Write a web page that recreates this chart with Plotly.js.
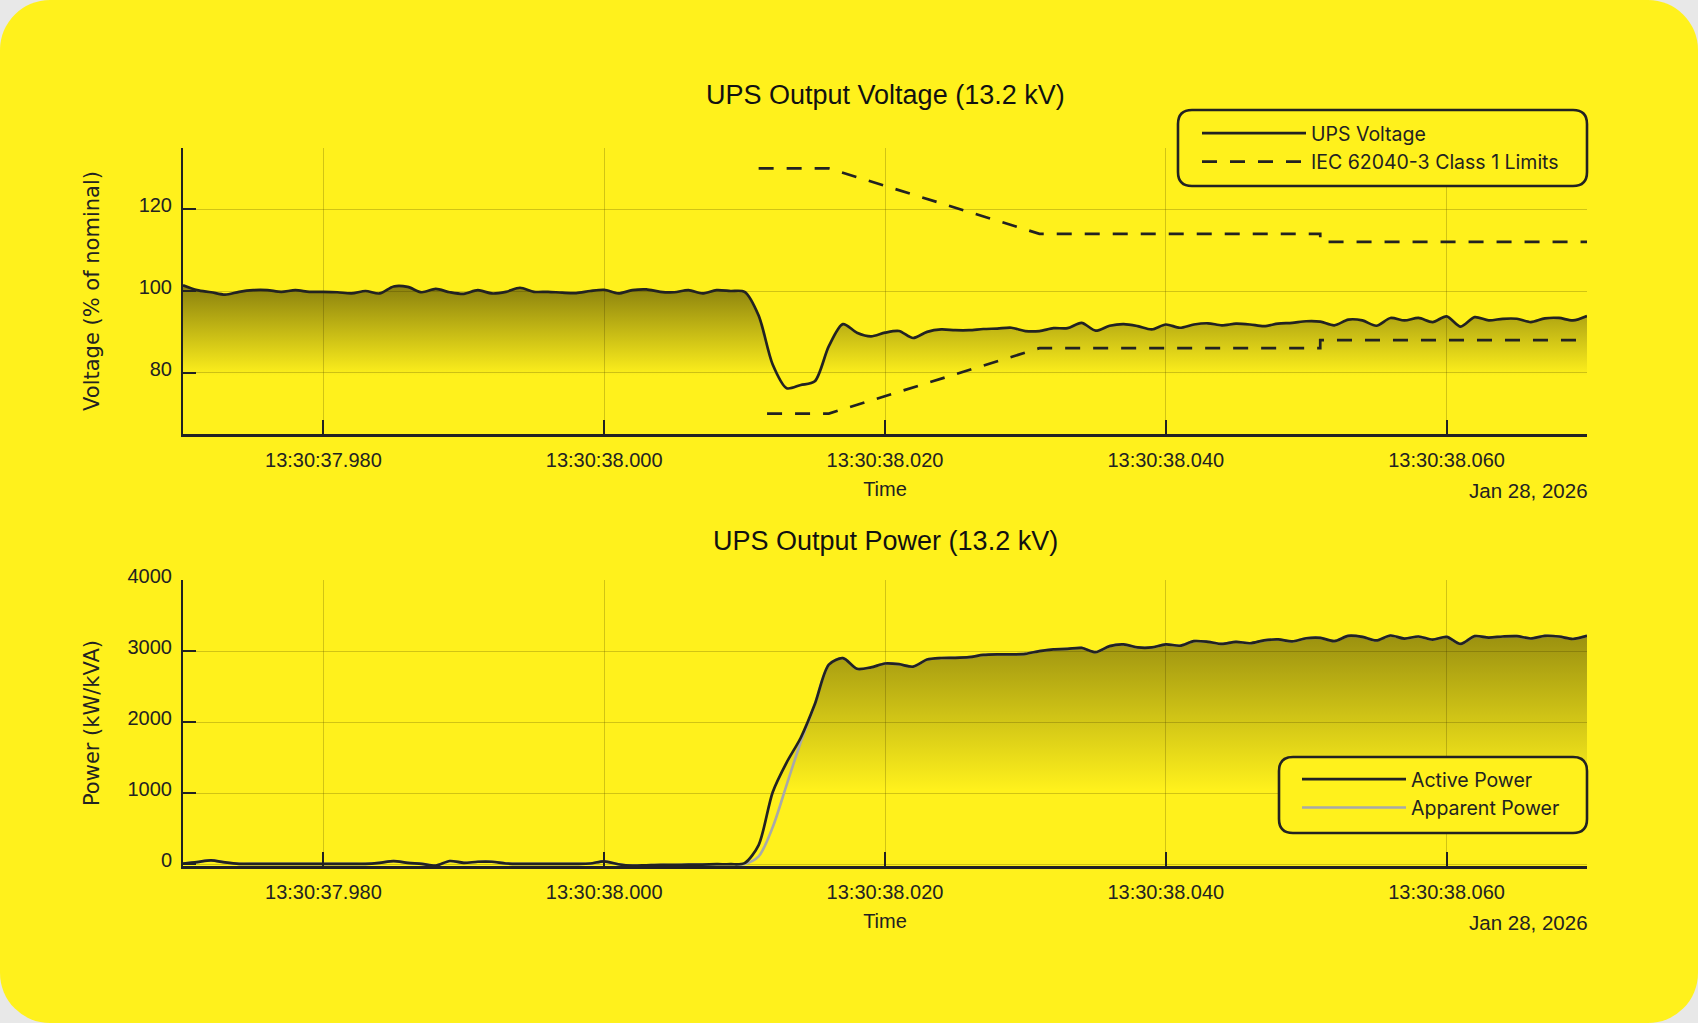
<!DOCTYPE html>
<html><head><meta charset="utf-8">
<script src="https://cdn.plot.ly/plotly-3.0.1.min.js"></script>
<style>
html,body{margin:0;padding:0;background:#e8e8e8;}
#wrap{width:1698px;height:1023px;background:#fff11c;border-radius:50px;overflow:hidden;}
#chart{width:1698px;height:1023px;}
</style></head><body><div id="wrap"><div id="chart"></div></div>
<script>
// ---- data ----
const sessionDate = 'Jan 28, 2026';
const tickOffsetsMs = [10, 30, 50, 70, 90];
const tickLabels = ['13:30:37.980', '13:30:38.000', '13:30:38.020', '13:30:38.040', '13:30:38.060'];
const sampleOffsetsMs = [0,1,2,3,4,5,6,7,8,9,10,11,12,13,14,15,16,17,18,19,20,21,22,23,24,25,26,27,28,29,30,31,32,33,34,35,36,37,38,39,40,41,42,43,44,45,46,47,48,49,50,51,52,53,54,55,56,57,58,59,60,61,62,63,64,65,66,67,68,69,70,71,72,73,74,75,76,77,78,79,80,81,82,83,84,85,86,87,88,89,90,91,92,93,94,95,96,97,98,99,100];
const voltagePct = [
 101.4,100.2,99.7,99.1,99.8,100.2,100.2,99.8,100.2,99.8,
 99.8,99.7,99.4,100.0,99.4,101.1,101.0,99.7,100.5,99.7,
 99.3,100.2,99.4,99.8,100.8,99.8,99.8,99.6,99.5,100.0,
 100.3,99.4,100.2,100.4,99.8,99.7,100.2,99.4,100.2,100.0,
 99.8,94.0,82.0,76.2,77.0,77.9,86.5,91.9,89.8,88.9,
 89.8,90.2,88.5,90.0,90.6,90.4,90.4,90.7,90.8,91.0,
 90.2,90.2,90.9,90.9,92.2,90.3,91.5,91.9,91.4,90.6,
 91.8,91.0,91.8,92.1,91.6,92.0,91.8,91.4,92.0,92.2,
 92.6,92.5,91.6,93.0,92.8,91.5,93.4,92.8,93.4,92.4,
 93.8,91.3,93.6,92.8,93.2,93.2,92.4,93.3,93.4,92.8,
 93.9];
const activePowerKW = [
 10,30,55,25,5,5,5,5,5,5,
 5,5,5,5,20,45,20,5,-20,45,
 20,35,35,10,5,5,5,5,5,10,
 40,0,-20,-15,-10,-10,-5,-5,0,0,
 15,270,1014,1434,1780,2250,2810,2900,2750,2770,
 2825,2815,2780,2880,2902,2905,2915,2945,2953,2953,
 2960,3000,3025,3030,3045,2985,3070,3093,3051,3051,
 3095,3075,3140,3130,3100,3130,3110,3150,3163,3135,
 3180,3186,3140,3214,3200,3150,3219,3175,3205,3160,
 3200,3100,3210,3190,3205,3210,3177,3214,3205,3170,
 3214];
const apparentPowerKVA = [
 10,30,55,25,5,5,5,5,5,5,
 5,5,5,5,20,45,20,5,-20,45,
 20,35,35,10,5,5,5,5,5,10,
 40,0,-20,-15,-10,-10,-5,-5,0,0,
 5,110,520,1120,1720,2250,2810,2900,2750,2770,
 2825,2815,2780,2880,2902,2905,2915,2945,2953,2953,
 2960,3000,3025,3030,3045,2985,3070,3093,3051,3051,
 3095,3075,3140,3130,3100,3130,3110,3150,3163,3135,
 3180,3186,3140,3214,3200,3150,3219,3175,3205,3160,
 3200,3100,3210,3190,3205,3210,3177,3214,3205,3170,
 3214];
const upperLimitMs  = [41, 46, 61, 81, 81, 100];
const upperLimitPct = [130, 130, 114, 114, 112, 112];
const lowerLimitMs  = [41.6, 46, 61, 81, 81, 100];
const lowerLimitPct = [70, 70, 86, 86, 88, 88];

// ---- time base (13:30:37.970 on 2026-01-28) ----
const T0 = Date.UTC(2026, 0, 28, 13, 30, 37, 970);
const toX = arr => arr.map(ms => T0 + ms);
const xs = toX(sampleOffsetsMs);

// ---- styling ----
const BG = '#fff11c';
const INK = '#222222';
const GRID = 'rgba(90,80,0,0.28)';
const SANS = 'Liberation Sans, Arial, sans-serif';
const TICKFONT = {family: SANS, size: 20, color: INK};
const PX = {l: 183, t: 148, w: 1404, h: 718};
const px2x = px => (px - PX.l) / PX.w;
const px2y = py => (PX.t + PX.h - py) / PX.h;
function roundRect(x0, y0, x1, y1, r) {
  const X = px2x, Y = px2y;
  return `M ${X(x0 + r)},${Y(y0)} L ${X(x1 - r)},${Y(y0)} Q ${X(x1)},${Y(y0)} ${X(x1)},${Y(y0 + r)} ` +
         `L ${X(x1)},${Y(y1 - r)} Q ${X(x1)},${Y(y1)} ${X(x1 - r)},${Y(y1)} ` +
         `L ${X(x0 + r)},${Y(y1)} Q ${X(x0)},${Y(y1)} ${X(x0)},${Y(y1 - r)} ` +
         `L ${X(x0)},${Y(y0 + r)} Q ${X(x0)},${Y(y0)} ${X(x0 + r)},${Y(y0)} Z`;
}

const lineBase = {color: INK, width: 2.7, shape: 'spline', smoothing: 0.8};
const dashLim = {color: INK, width: 2.7, dash: '15px,13px'};

const traces = [
  {x: xs, y: voltagePct, xaxis: 'x', yaxis: 'y', mode: 'none', fill: 'tozeroy',
   line: {shape: 'spline', smoothing: 0.8},
   fillgradient: {type: 'vertical', start: 79, stop: 101,
     colorscale: [[0, 'rgba(30,25,0,0)'], [1, 'rgba(30,25,0,0.52)']]},
   showlegend: false, hoverinfo: 'skip'},
  {x: xs, y: voltagePct, xaxis: 'x', yaxis: 'y', mode: 'lines', line: lineBase,
   name: 'UPS Voltage', legend: 'legend', legendgroup: 'v'},
  {x: toX(upperLimitMs), y: upperLimitPct, xaxis: 'x', yaxis: 'y', mode: 'lines', line: dashLim,
   name: 'IEC 62040-3 Class 1 Limits', legend: 'legend', legendgroup: 'lim'},
  {x: toX(lowerLimitMs), y: lowerLimitPct, xaxis: 'x', yaxis: 'y', mode: 'lines', line: dashLim,
   name: 'IEC 62040-3 Class 1 Limits', legend: 'legend', legendgroup: 'lim', showlegend: false},

  {x: xs, y: activePowerKW, xaxis: 'x2', yaxis: 'y2', mode: 'none', fill: 'tozeroy',
   line: {shape: 'spline', smoothing: 0.8},
   fillgradient: {type: 'vertical', start: 1050, stop: 3250,
     colorscale: [[0, 'rgba(30,25,0,0)'], [1, 'rgba(30,25,0,0.45)']]},
   showlegend: false, hoverinfo: 'skip'},
  {x: xs, y: apparentPowerKVA, xaxis: 'x2', yaxis: 'y2', mode: 'lines',
   line: {color: '#a9a9a9', width: 2.6, shape: 'spline', smoothing: 0.8},
   name: 'Apparent Power', legend: 'legend2', legendgroup: 'app', legendrank: 2},
  {x: xs, y: activePowerKW, xaxis: 'x2', yaxis: 'y2', mode: 'lines', line: lineBase,
   name: 'Active Power', legend: 'legend2', legendgroup: 'act', legendrank: 1}
];

const xCommon = {
  type: 'date', range: [T0, T0 + 100],
  tickmode: 'array', tickvals: toX(tickOffsetsMs), ticktext: tickLabels,
  ticks: 'inside', ticklen: 14, tickwidth: 2, tickcolor: INK, ticklabelstandoff: 6,
  showline: true, linecolor: INK, linewidth: 2.6, showgrid: true, gridcolor: GRID, gridwidth: 1,
  zeroline: false, tickfont: TICKFONT,
  title: {text: 'Time', font: {family: SANS, size: 20, color: INK}, standoff: 13}
};
const yCommon = {
  ticks: 'inside', ticklen: 13, tickwidth: 2, tickcolor: INK, ticklabelstandoff: 5, ticklabelshift: -4,
  showline: true, linecolor: INK, linewidth: 2, showgrid: true, gridcolor: GRID, gridwidth: 1,
  zeroline: false, tickfont: TICKFONT
};
const legendCommon = {
  bgcolor: 'rgba(0,0,0,0)', borderwidth: 0, itemwidth: 104, traceorder: 'grouped',
  tracegroupgap: 0, xanchor: 'left', yanchor: 'top',
  font: {family: 'Inter, sans-serif', size: 19.5, color: INK}
};
const titleFont = {family: SANS, size: 27, color: '#111'};
const annFont = {family: SANS, size: 20.5, color: INK};

const layout = {
  width: 1698, height: 1023,
  margin: {l: PX.l, r: 1698 - PX.l - PX.w, t: PX.t, b: 1023 - PX.t - PX.h},
  paper_bgcolor: 'rgba(0,0,0,0)', plot_bgcolor: 'rgba(0,0,0,0)',
  font: {family: SANS, color: INK},
  xaxis: Object.assign({}, xCommon, {anchor: 'y', domain: [0, 1]}),
  xaxis2: Object.assign({}, xCommon, {anchor: 'y2', domain: [0, 1]}),
  yaxis: Object.assign({}, yCommon, {anchor: 'x', domain: [px2y(434), 1], range: [65, 135], dtick: 20,
    title: {text: 'Voltage (% of nominal)', font: {family: 'DejaVu Sans, sans-serif', size: 21, color: INK}, standoff: 33}}),
  yaxis2: Object.assign({}, yCommon, {anchor: 'x2', domain: [0, px2y(580)], range: [-25, 4000], dtick: 1000,
    title: {text: 'Power (kW/kVA)', font: {family: 'DejaVu Sans, sans-serif', size: 21, color: INK}, standoff: 22}}),
  legend: Object.assign({}, legendCommon, {x: px2x(1197), y: px2y(114)}),
  legend2: Object.assign({}, legendCommon, {x: px2x(1297), y: px2y(760)}),
  shapes: [
    {type: 'path', xref: 'paper', yref: 'paper', layer: 'above', path: roundRect(1178, 110, 1587, 186, 14),
     fillcolor: BG, line: {color: INK, width: 2.6}},
    {type: 'path', xref: 'paper', yref: 'paper', layer: 'above', path: roundRect(1279, 757, 1587, 833, 14),
     fillcolor: BG, line: {color: INK, width: 2.6}}
  ],
  annotations: [
    {text: 'UPS Output Voltage (13.2 kV)', xref: 'paper', yref: 'paper', x: 0.5, y: px2y(95),
     xanchor: 'center', yanchor: 'middle', showarrow: false, font: titleFont},
    {text: 'UPS Output Power (13.2 kV)', xref: 'paper', yref: 'paper', x: 0.5, y: px2y(541),
     xanchor: 'center', yanchor: 'middle', showarrow: false, font: titleFont},
    {text: sessionDate, xref: 'paper', yref: 'paper', x: 1, y: px2y(490), xshift: 3,
     xanchor: 'right', yanchor: 'middle', showarrow: false, font: annFont},
    {text: sessionDate, xref: 'paper', yref: 'paper', x: 1, y: px2y(922), xshift: 3,
     xanchor: 'right', yanchor: 'middle', showarrow: false, font: annFont}
  ]
};

Plotly.newPlot('chart', traces, layout, {displayModeBar: false, staticPlot: true});
</script></body></html>
